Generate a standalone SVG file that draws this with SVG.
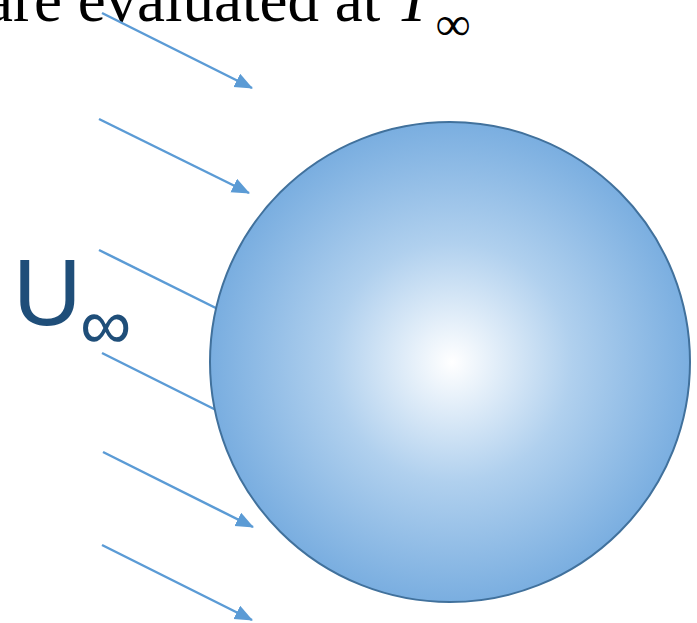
<svg xmlns="http://www.w3.org/2000/svg" width="697" height="623" viewBox="0 0 697 623">
<style>
.flow{stroke:#5b9bd5;stroke-width:2.5;fill:none;marker-end:url(#ah)}
.serif{font-family:"Liberation Serif","Times New Roman",serif;fill:#000}
.lbl{font-family:"Liberation Sans",Arial,sans-serif;fill:#1f4e79}
</style>
<defs>
<marker id="ah" markerUnits="userSpaceOnUse" markerWidth="20" markerHeight="16" refX="17" refY="7.5" orient="auto">
<path d="M0,0 L18,7.5 L0,15 z" fill="#5b9bd5"/>
</marker>
<radialGradient id="g" cx="452" cy="362" r="240" gradientUnits="userSpaceOnUse">
<stop offset="0" stop-color="#ffffff"/>
<stop offset="0.5" stop-color="#b0d0ee"/>
<stop offset="1" stop-color="#7aaee0"/>
</radialGradient>
</defs>
<g id="title">
<text class="serif" x="-15" y="21" font-size="63">are evaluated at <tspan font-style="italic">T</tspan></text>
<text class="serif" x="436" y="40" font-size="48" font-style="italic">∞</text>
</g>
<g id="connectors">
<line class="flow" x1="102" y1="13" x2="252" y2="88"/>
<line class="flow" x1="99" y1="119" x2="249" y2="193"/>
<line class="flow" x1="99" y1="250" x2="240" y2="320"/>
<line class="flow" x1="102" y1="353" x2="240" y2="422"/>
<line class="flow" x1="103" y1="452" x2="253" y2="527"/>
<line class="flow" x1="102" y1="545" x2="252" y2="620"/>
</g>
<g id="sphere">
<circle cx="450" cy="362" r="240" fill="url(#g)" stroke="#41719c" stroke-width="2"/>
</g>
<g id="u-inf">
<text class="lbl" x="13" y="325" font-size="95">U</text>
<text class="lbl" x="80" y="349" font-size="72">∞</text>
</g>
</svg>
